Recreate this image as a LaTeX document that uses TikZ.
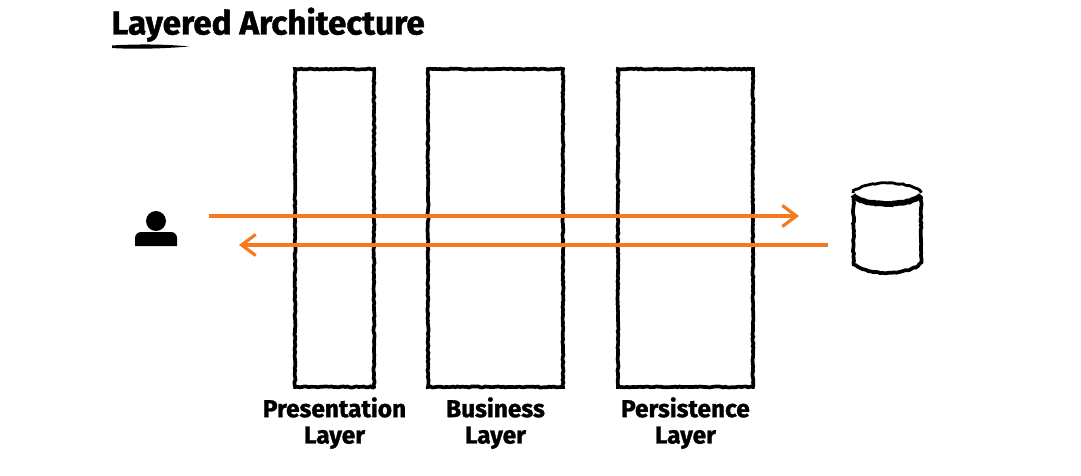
\documentclass[tikz,border=0pt]{standalone}
\usepackage{fontspec}
\setmainfont{Fira Sans}[BoldFeatures={FakeBold=1.3}]
\usetikzlibrary{positioning,arrows.meta,decorations.pathmorphing}
\definecolor{flow}{HTML}{F47A1F}
\tikzset{
  rough/.style={decorate,decoration={random steps,segment length=1.3pt,amplitude=.3pt}},
  layerbox/.style={draw,rough,line width=2.1pt,minimum height=6.36cm,inner sep=0pt,outer sep=0pt},
  layername/.style={font=\fontsize{13.9}{15}\selectfont\bfseries,align=center,inner sep=0pt},
  flowline/.style={draw=flow,line width=2pt,-{Straight Barb[length=8pt,width=12pt,line width=1.8pt]}},
}
\begin{document}
\begin{tikzpicture}[x=0.02cm,y=-0.02cm]
  \pgfmathsetseed{7}
  \useasboundingbox (0,0) rectangle (1081,476);
  % title
  \node[font=\fontsize{18.9}{21}\selectfont\bfseries,anchor=base west,inner sep=0pt] (title) at (111,34.5) {Layered Architecture};
  \fill (112,45.5) .. controls (135,44) and (165,44) .. (189,46.5) .. controls (165,48.5) and (135,49.5) .. (112,48) -- cycle;
  % layers
  \node[layerbox,minimum width=1.58cm] (presentation) at (334.5,228) {};
  \node[layerbox,minimum width=2.7cm,right=1.08cm of presentation] (business) {};
  \node[layerbox,minimum width=2.7cm,right=1.1cm of business] (persistence) {};
  \node[layername,below=0.2cm of presentation] {Presentation\\Layer};
  \node[layername,below=0.2cm of business] {Business\\Layer};
  \node[layername,below=0.2cm of persistence] {Persistence\\Layer};
  % user
  \node[circle,fill,inner sep=0pt,minimum size=0.4cm] (user) at (156,221) {};
  \fill (135,246) -- (135,238) arc[start angle=180,end angle=270,radius=6] -- (171,232) arc[start angle=270,end angle=360,radius=6] -- (177,246) -- cycle;
  % database
  \node[inner sep=0pt,minimum width=1.36cm,minimum height=1.8cm] (store) at (887,228) {};
  \draw[rough,line width=2.1pt] (853.5,199) -- (853.5,262) .. controls (855,268) and (872,273) .. (887,273) .. controls (902,273) and (919,268) .. (921,262) -- (921,197);
  \draw[rough,line width=1.6pt] (853,193) .. controls (855,187) and (872,183) .. (887,183) .. controls (902,183) and (919,187) .. (921,193);
  \draw[rough,line width=3.2pt] (853,195) .. controls (856,200) and (872,204) .. (887,204) .. controls (902,204) and (918,200) .. (921,195);
  % flows
  \coordinate (reqstart) at (209,216);
  \coordinate (reqend) at (799,216);
  \coordinate (respstart) at (828,245);
  \coordinate (respend) at (239,245);
  \draw[flowline] (reqstart) -- (reqend);
  \draw[flowline] (respstart) -- (respend);
\end{tikzpicture}
\end{document}
